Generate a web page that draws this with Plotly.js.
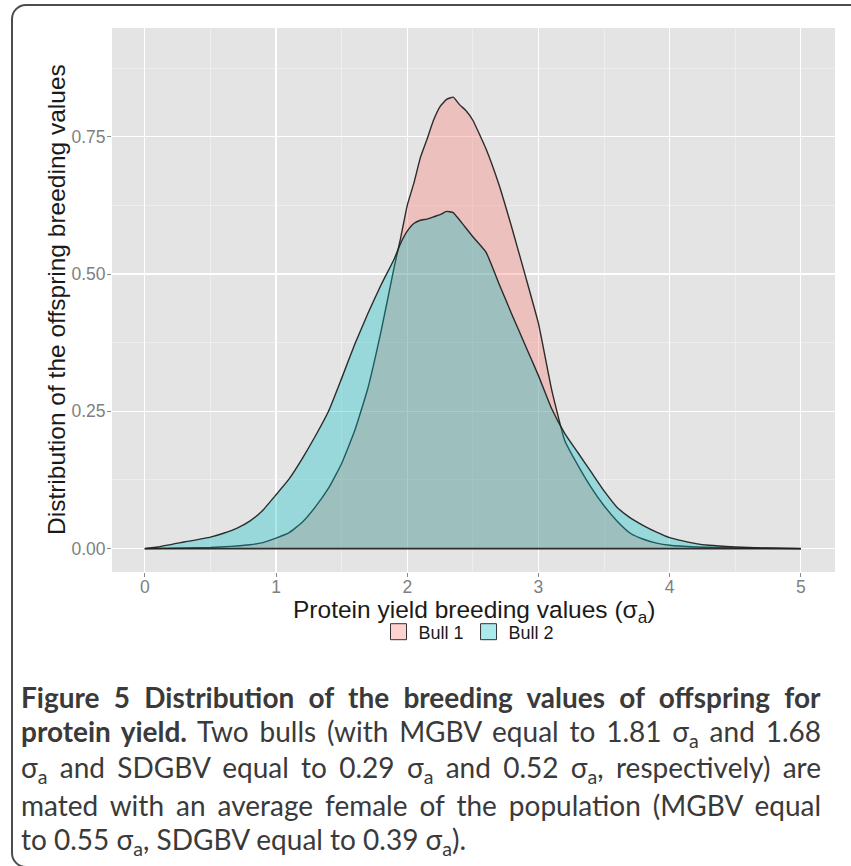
<!DOCTYPE html>
<html>
<head>
<meta charset="utf-8">
<script src="https://cdn.plot.ly/plotly-3.0.1.min.js"></script>
<style>
  html, body { margin: 0; padding: 0; background: #ffffff; overflow: hidden; }
  #wrap { position: relative; width: 851px; height: 866px; overflow: hidden; }
  #chart { position: absolute; left: 0; top: 0; width: 851px; height: 866px; }
  #frame { position: absolute; left: 11px; top: 4px; width: 1000px; height: 864px;
           border: 2px solid #4d4d4d; border-radius: 15px; pointer-events: none; box-sizing: border-box; }
</style>
</head>
<body>
<div id="wrap">
  <div id="chart"></div>
  <div id="frame"></div>
</div>
<script>
// ---- data ----
const bull1X = [0, 0.3, 0.5, 0.65, 0.8, 0.9, 1.0, 1.1, 1.2, 1.3, 1.4, 1.5, 1.6, 1.7, 1.8, 1.9, 1.95, 2.0, 2.05, 2.1, 2.15, 2.2, 2.25, 2.3, 2.35, 2.4, 2.45, 2.5, 2.6, 2.7, 2.8, 2.9, 3.0, 3.1, 3.2, 3.3, 3.4, 3.5, 3.6, 3.7, 3.8, 3.9, 4.0, 4.2, 4.5, 5.0];
const bull1Y = [0.000, 0.001, 0.002, 0.004, 0.007, 0.011, 0.019, 0.029, 0.048, 0.076, 0.110, 0.155, 0.215, 0.292, 0.395, 0.512, 0.566, 0.625, 0.665, 0.712, 0.745, 0.780, 0.805, 0.818, 0.822, 0.808, 0.797, 0.780, 0.728, 0.662, 0.582, 0.497, 0.410, 0.290, 0.197, 0.152, 0.112, 0.078, 0.050, 0.028, 0.017, 0.010, 0.006, 0.003, 0.001, 0.000];

const bull2X = [0, 0.1, 0.3, 0.5, 0.6, 0.7, 0.8, 0.9, 1.0, 1.1, 1.2, 1.3, 1.4, 1.5, 1.6, 1.7, 1.8, 1.9, 1.95, 2.0, 2.05, 2.1, 2.15, 2.2, 2.25, 2.3, 2.35, 2.4, 2.45, 2.5, 2.6, 2.7, 2.8, 2.9, 3.0, 3.1, 3.2, 3.3, 3.4, 3.5, 3.6, 3.7, 3.8, 3.9, 4.0, 4.1, 4.2, 4.3, 4.5, 4.7, 5.0];
const bull2Y = [0.000, 0.003, 0.012, 0.021, 0.028, 0.037, 0.050, 0.070, 0.098, 0.127, 0.164, 0.205, 0.250, 0.310, 0.372, 0.428, 0.480, 0.527, 0.556, 0.578, 0.592, 0.598, 0.600, 0.604, 0.608, 0.614, 0.612, 0.598, 0.583, 0.568, 0.540, 0.482, 0.425, 0.370, 0.315, 0.255, 0.210, 0.175, 0.140, 0.105, 0.075, 0.056, 0.042, 0.030, 0.020, 0.014, 0.009, 0.006, 0.003, 0.001, 0.000];

const seriesNames = ["Bull 1", "Bull 2"];
const seriesFill = ["rgba(248,118,109,0.33)", "rgba(0,191,196,0.33)"];
const xTickVals = [0, 1, 2, 3, 4, 5];
const yTickVals = [0, 0.25, 0.5, 0.75];
const yTickText = ["0.00", "0.25", "0.50", "0.75"];
const xTitle = "Protein yield breeding values (σ<sub>a</sub>)";
const yTitle = "Distribution of the offspring breeding values";

const captionLines = [
  "<b>Figure 5 Distribution of the breeding values of offspring for</b>",
  "<b>protein yield.</b> Two bulls (with MGBV equal to 1.81 σ<sub>a</sub> and 1.68",
  "σ<sub>a</sub> and SDGBV equal to 0.29 σ<sub>a</sub> and 0.52 σ<sub>a</sub>, respectively) are",
  "mated with an average female of the population (MGBV equal",
  "to 0.55 σ<sub>a</sub>, SDGBV equal to 0.39 σ<sub>a</sub>)."
];
const captionJustify = [true, true, true, true, false];

// ---- chart ----
const lineStyle = { color: "rgba(35,35,35,0.95)", width: 1.4, shape: "spline", smoothing: 0.4 };

const traces = [
  { x: bull1X, y: bull1Y, name: seriesNames[0], type: "scatter", mode: "lines", showlegend: false,
    fill: "tozeroy", fillcolor: seriesFill[0], line: lineStyle },
  { x: bull2X, y: bull2Y, name: seriesNames[1], type: "scatter", mode: "lines", showlegend: false,
    fill: "tozeroy", fillcolor: seriesFill[1], line: lineStyle },
  // legend keys
  { x: [null], y: [null], name: seriesNames[0], type: "scatter", mode: "markers",
    marker: { symbol: "square", size: 16, color: seriesFill[0], line: { color: "#333", width: 1 } } },
  { x: [null], y: [null], name: seriesNames[1], type: "scatter", mode: "markers",
    marker: { symbol: "square", size: 16, color: seriesFill[1], line: { color: "#333", width: 1 } } }
];

const M = { l: 112, r: 16, t: 28, b: 294 };
const plotH = 866 - M.t - M.b;
const plotW = 851 - M.l - M.r;
const py2paper = py => (866 - M.b - py) / plotH;
const px2paper = pxx => (pxx - M.l) / plotW;

const captionY = [697, 733, 769, 805, 841];
const annotations = captionLines.map((t, i) => ({
  text: t, xref: "paper", yref: "paper", x: px2paper(19), y: py2paper(captionY[i]),
  xanchor: "left", yanchor: "middle", showarrow: false, align: "left",
  font: { family: "Lato, 'Open Sans', sans-serif", size: 28, color: "#3a3a3a" }
}));
const titleFont = { family: "'Liberation Sans', Arial, sans-serif", size: 24.5, color: "#1a1a1a" };
annotations.push({ text: xTitle, xref: "paper", yref: "paper", x: px2paper(474), y: py2paper(611),
  xanchor: "center", yanchor: "middle", showarrow: false, font: titleFont });
annotations.push({ text: yTitle, xref: "paper", yref: "paper", x: px2paper(56), y: py2paper(300),
  xanchor: "center", yanchor: "middle", showarrow: false, textangle: -90, font: titleFont });

const axisFont = { family: "'Liberation Sans', Arial, sans-serif", size: 17.5, color: "#7f7f7f" };

const layout = {
  width: 851, height: 866,
  margin: M,
  paper_bgcolor: "rgba(0,0,0,0)",
  plot_bgcolor: "#E4E4E4",
  showlegend: true,
  legend: { orientation: "h", x: px2paper(469), xanchor: "center", y: py2paper(632), yanchor: "middle",
            font: { family: "'Liberation Sans', Arial, sans-serif", size: 18, color: "#1a1a1a" },
            itemwidth: 30, bgcolor: "rgba(0,0,0,0)" },
  xaxis: {
    range: [-0.25, 5.26], tickvals: xTickVals, ticks: "outside", ticklen: 4, tickwidth: 1,
    tickcolor: "#8a8a8a", tickfont: axisFont, showgrid: true, gridcolor: "#ffffff", gridwidth: 1.1,
    zeroline: false, showline: false, ticklabelstandoff: -5,
    minor: { dtick: 0.5, showgrid: true, gridcolor: "rgba(255,255,255,0.55)", gridwidth: 0.7, ticks: "" }
  },
  yaxis: {
    range: [-0.0426, 0.948], tickvals: yTickVals, ticktext: yTickText, ticks: "outside", ticklen: 4, tickwidth: 1,
    tickcolor: "#8a8a8a", tickfont: axisFont, showgrid: true, gridcolor: "#ffffff", gridwidth: 1.1,
    zeroline: false, showline: false, ticklabelstandoff: -2,
    minor: { dtick: 0.125, showgrid: true, gridcolor: "rgba(255,255,255,0.55)", gridwidth: 0.7, ticks: "" }
  },
  shapes: [
    { type: "line", xref: "x", yref: "y", layer: "above",
      x0: Math.min(bull1X[0], bull2X[0]), x1: Math.max(bull1X[bull1X.length - 1], bull2X[bull2X.length - 1]),
      y0: 0, y1: 0, line: { color: "rgba(35,35,35,0.95)", width: 1.6 } }
  ],
  annotations: annotations
};

Plotly.newPlot("chart", traces, layout, { staticPlot: true, displayModeBar: false }).then(gd => {
  const targetWidth = 822 - 22;
  captionLines.forEach((t, i) => {
    if (!captionJustify[i]) return;
    const el = gd.querySelector('g.annotation[data-index="' + i + '"] text.annotation-text');
    if (!el) return;
    const w = el.getBBox().width;
    const n = (el.textContent.match(/[ \u00a0]/g) || []).length;
    if (n > 0 && w < targetWidth) {
      el.style.wordSpacing = ((targetWidth - w) / n).toFixed(2) + "px";
    }
  });
});
</script>
</body>
</html>
